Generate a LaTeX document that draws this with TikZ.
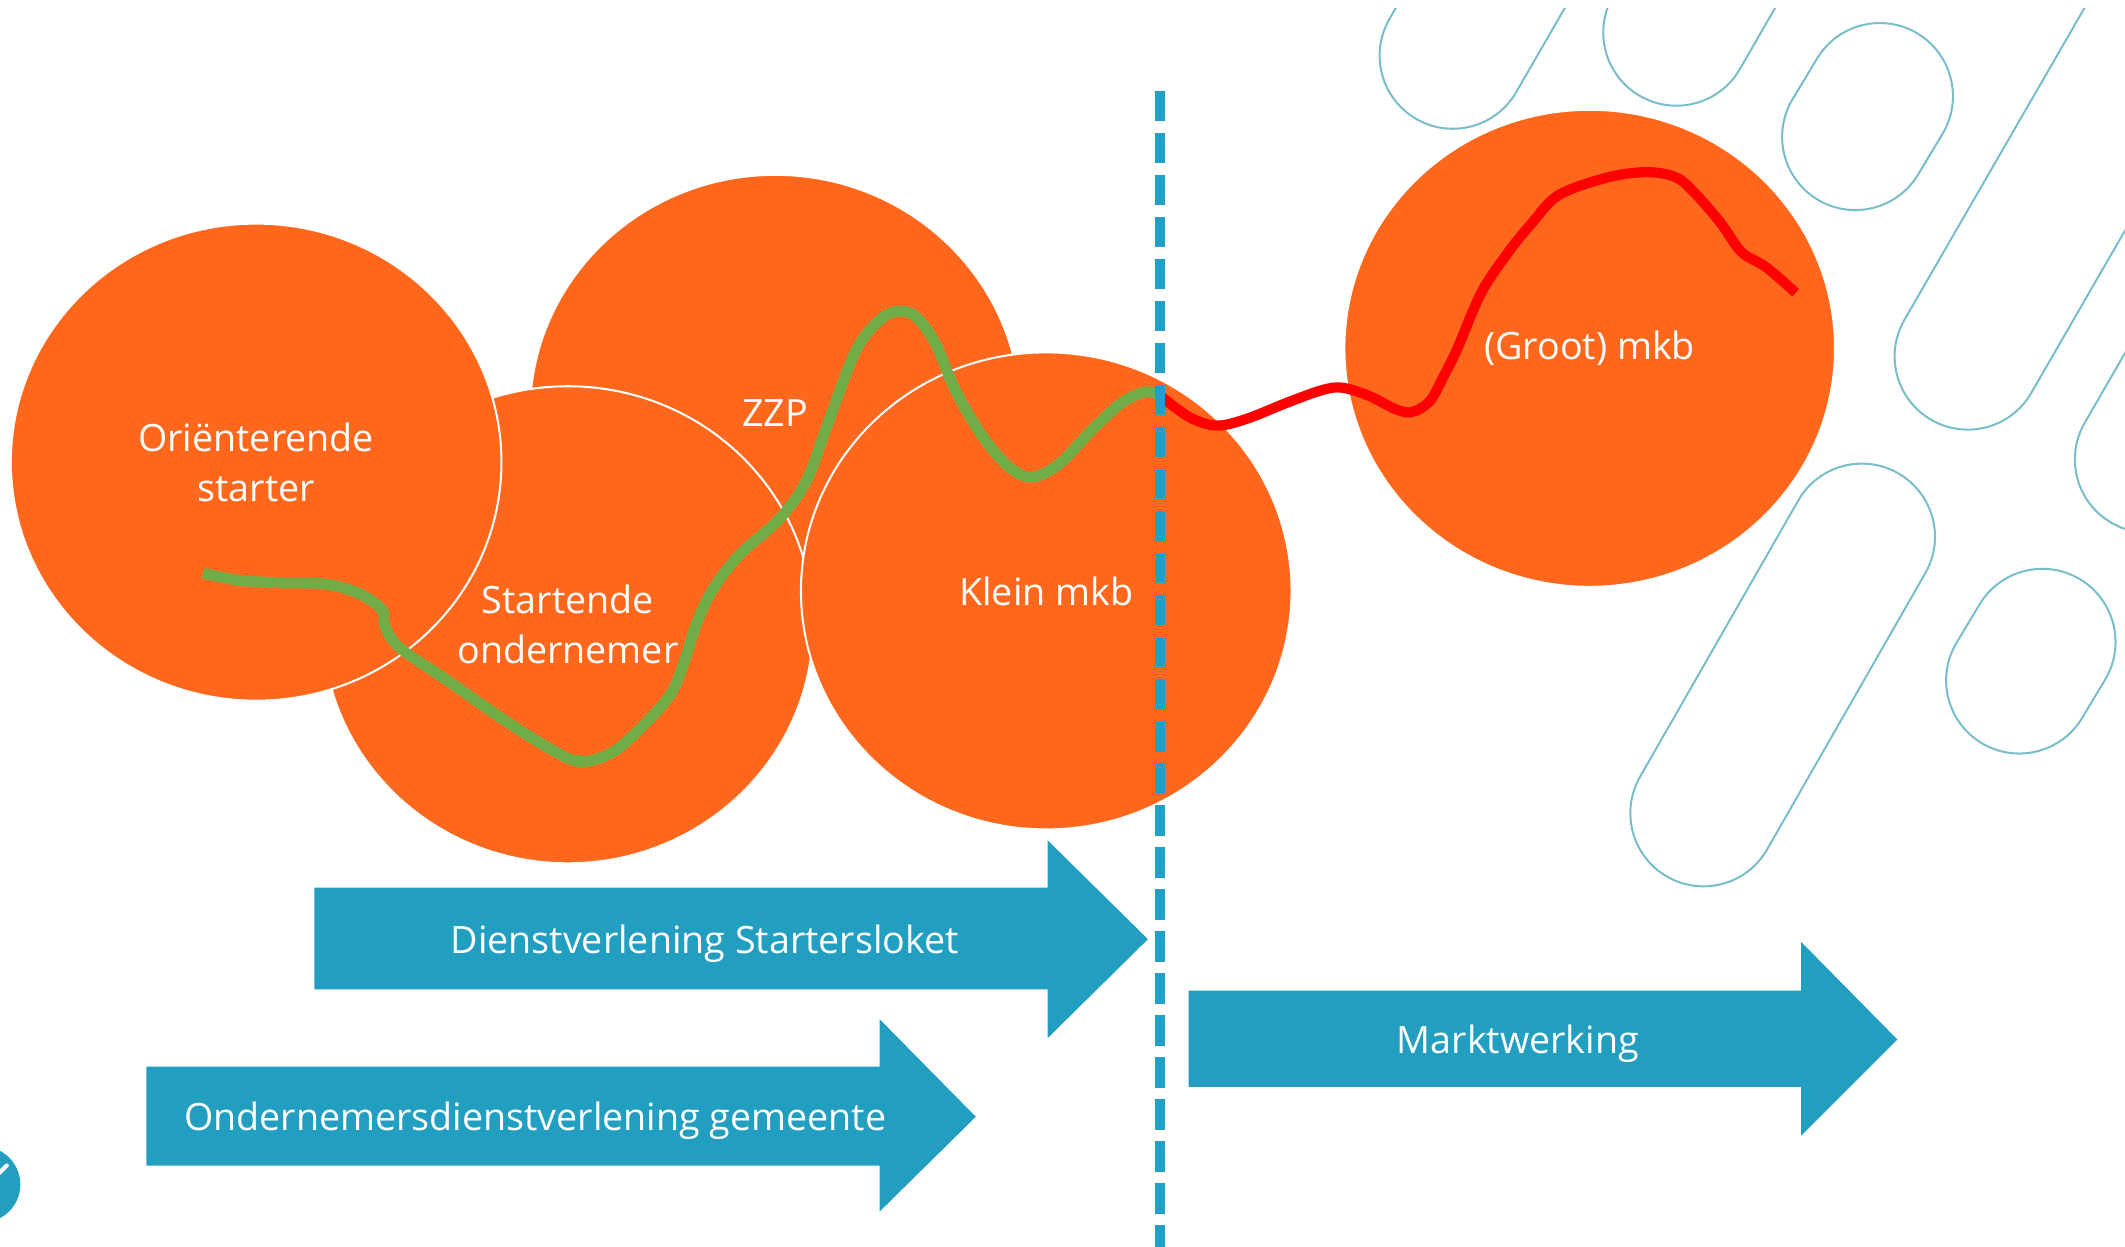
\documentclass[tikz,border=0pt]{standalone}
\usepackage{fontspec}
\setmainfont{Open Sans}
\usepackage{tikz}
\usetikzlibrary{shapes.geometric}

\definecolor{oranje}{RGB}{255,103,28}
\definecolor{pijlblauw}{RGB}{34,159,192}
\definecolor{streepblauw}{RGB}{31,160,196}
\definecolor{lijngroen}{RGB}{112,173,71}
\definecolor{lijnrood}{RGB}{255,0,0}
\definecolor{capsblauw}{RGB}{122,190,203}

\tikzset{
  fase/.style={ellipse, fill=oranje, draw=white, line width=0.3mm,
    minimum width=72.4mm, minimum height=70.4mm, inner sep=0pt,
    text=white, align=center, font=\fontsize{15.8}{21}\selectfont},
  pijltekst/.style={text=white, font=\fontsize{15.8}{21}\selectfont},
  pijl/.style={fill=pijlblauw},
  capslijn/.style={draw=capsblauw, line width=0.3mm},
}

% capsule: start centre, angle, length
\newcommand{\capsule}[3]{%
  \draw[capslijn, shift={(#1)}, rotate=#2] (0,-54) -- (#3,-54)
    arc[start angle=-90, end angle=90, radius=54] -- (0,54)
    arc[start angle=90, end angle=270, radius=54] -- cycle;}

\begin{document}
\begin{tikzpicture}[x=0.2mm, y=-0.2mm]
        \useasboundingbox (0,0) rectangle (1568,920);

        % background capsules
        \begin{scope}
          \clip (0,6) rectangle (1568,920);
          \capsule{1072,41}{60}{200}
          \capsule{1237,24}{60}{200}
          \capsule{1369,101}{59}{35}
          \capsule{1452,263}{60}{400}
          \capsule{1585,339}{60}{300}
          \capsule{1257,600}{60.2}{235}
          \capsule{1490,502}{59}{33}
        \end{scope}

        % phases
        \node[fase] (zzp) at (572,305) {ZZP};
        \node[fase] (start) at (419,461) {Startende\\ondernemer};
        \node[fase] (ori) at (189,341) {Oriënterende\\starter};
        \node[fase] (klein) at (772,436) {Klein mkb};
        \node[fase] (groot) at (1173,257) {(Groot) mkb};

        % arrows
        \fill[pijl] (232,655) -- (773,655) -- (773,620) -- (847,693) -- (773,766) -- (773,730) -- (232,730) -- cycle;
        \node[pijltekst] (loket) at (520,696) {Dienstverlening Startersloket};

        \fill[pijl] (108,787) -- (649,787) -- (649,752) -- (720,824) -- (649,894) -- (649,860) -- (108,860) -- cycle;
        \node[pijltekst] (gemeente) at (395,827) {Ondernemersdienstverlening gemeente};

        \fill[pijl] (877,731) -- (1329,731) -- (1329,695) -- (1400,767) -- (1329,838) -- (1329,802) -- (877,802) -- cycle;
        \node[pijltekst] (markt) at (1120,770) {Marktwerking};

        % path of the entrepreneur
        \coordinate (knik) at (856,292);
        \draw[lijngroen, line width=1.6mm] plot[smooth, tension=0.55] coordinates {
          (150,423) (175,428) (205,430) (240,431) (265,438) (282,450) (284,462)
          (295,478) (330,502) (370,530) (405,552) (428,562) (452,555) (475,535)
          (495,512) (505,488) (514,460) (526,435) (545,410) (575,383) (595,355)
          (610,315) (630,262) (645,240) (660,230) (675,233) (690,253) (705,288)
          (725,322) (745,345) (762,352) (782,342) (805,318) (828,297) (846,289) (knik)};
        \draw[lijnrood, line width=1.5mm] plot[smooth, tension=0.55] coordinates {
          (knik) (878,308) (898,314) (920,309) (950,297) (975,288) (990,286)
          (1010,292) (1030,302) (1042,304) (1055,296) (1065,278) (1075,258)
          (1093,216) (1113,186) (1130,165) (1150,144) (1186,131) (1215,127)
          (1237,131) (1252,144) (1270,165) (1285,186) (1303,197) (1325,216)};

        % border
        \coordinate (grens1) at (856,67);
        \coordinate (grens2) at (856,920);
        \draw[streepblauw, line width=1.4mm, dash pattern=on 4.5mm off 1.7mm] (grens1) -- (grens2);

        % cut-off badge
        \fill[pijlblauw] (-13,874) circle (28);
        \draw[white, line width=0.6mm, line cap=round] (-8,873) -- (5,860);
\end{tikzpicture}
\end{document}
